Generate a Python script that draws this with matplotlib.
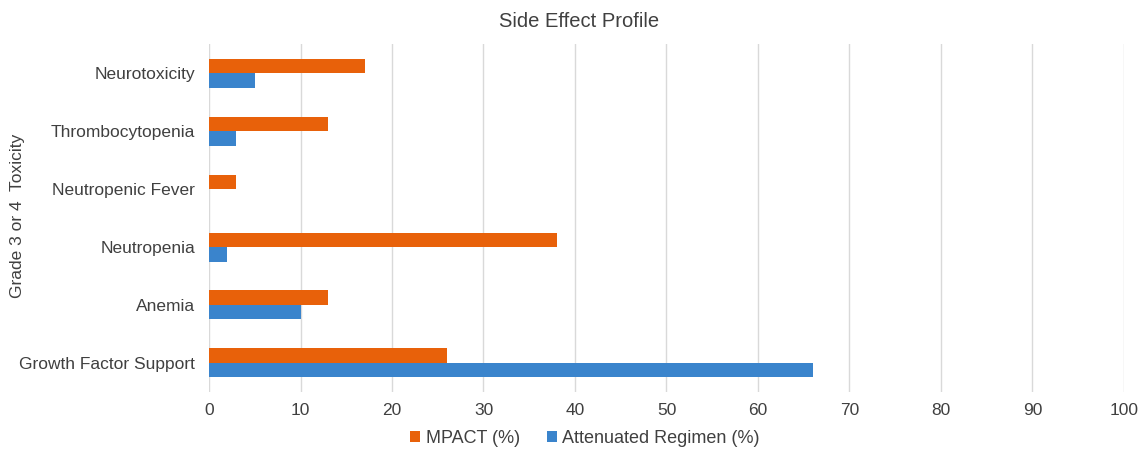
import matplotlib
matplotlib.use("Agg")
import matplotlib.pyplot as plt
import numpy as np

categories = ["Growth Factor Support", "Anemia", "Neutropenia", "Neutropenic Fever", "Thrombocytopenia", "Neurotoxicity"]
mpact = [26, 13, 38, 3, 13, 17]
attenuated = [66, 10, 2, 0, 3, 5]
xticks = [0, 10, 20, 30, 40, 50, 60, 70, 80, 90, 100]

plt.rcParams['font.family'] = ['Liberation Sans', 'DejaVu Sans']

fig = plt.figure(figsize=(11.39, 4.5), dpi=100)
ax = fig.add_axes([0.1835, 0.129, 0.8033, 0.773])

y = np.arange(len(categories))
h = 0.25
ax.barh(y + h/2, mpact, height=h, color='#E8610A', label='MPACT (%)', zorder=3)
ax.barh(y - h/2, attenuated, height=h, color='#3A84CC', label='Attenuated Regimen (%)', zorder=3)

ax.set_xlim(0, 100)
ax.set_ylim(-0.5, len(categories) - 0.5)
ax.set_xticks(xticks)
ax.set_yticks(y)
ax.set_yticklabels(categories)
ax.tick_params(axis='both', length=0, labelsize=12.5, colors='#404040')
ax.tick_params(axis='x', pad=8)
ax.tick_params(axis='y', pad=10)
ax.xaxis.grid(True, color='#D9D9D9', linewidth=1, zorder=0)
for s in ax.spines.values():
    s.set_visible(False)

fig.text(0.508, 0.953, 'Side Effect Profile', fontsize=14.5, color='#404040', ha='center', va='center')
fig.text(0.015, 0.52, 'Grade 3 or 4  Toxicity', fontsize=12.5, color='#404040', rotation=90,
         ha='center', va='center')

leg = fig.legend(loc='lower center', bbox_to_anchor=(0.5135, -0.03), ncol=2, frameon=False,
                 fontsize=13, handlelength=0.55, handleheight=0.55, handletextpad=0.3, columnspacing=1.5)
for t in leg.get_texts():
    t.set_color('#404040')

fig.savefig('out.png', dpi=100)
